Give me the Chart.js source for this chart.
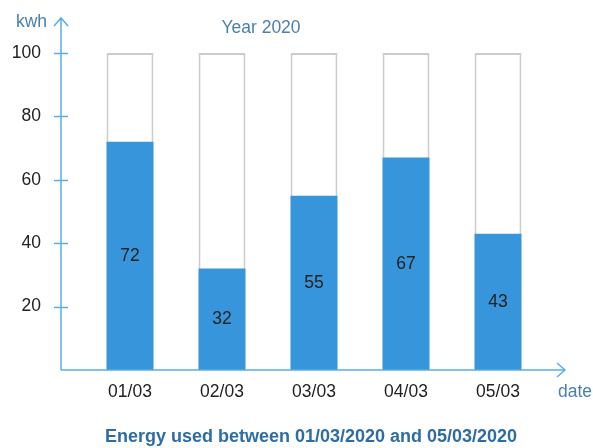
<!DOCTYPE html>
<html>
<head>
<meta charset="utf-8">
<script src="https://cdn.jsdelivr.net/npm/chart.js@4"></script>
<style>
  body { margin: 0; background: #fff; }
  #wrap { width: 593px; height: 448px; position: relative; }
</style>
</head>
<body>
<div id="wrap"><canvas id="energyChart"></canvas></div>
<script>
  const dates = ['01/03', '02/03', '03/03', '04/03', '05/03'];
  const usage = [72, 32, 55, 67, 43];
  const capacity = [100, 100, 100, 100, 100];
  const yTicks = [20, 40, 60, 80, 100];

  const FONT = 'Arial, "Liberation Sans", sans-serif';
  const AXIS = '#5aaee8';

  // axes, arrows, labels drawn by hand (the scales themselves are hidden)
  const axesPlugin = {
    id: 'axes',
    afterDraw(chart) {
      const ctx = chart.ctx;
      const x = chart.scales.x, y = chart.scales.y;
      const y0 = y.getPixelForValue(0);
      const ax = 61;
      ctx.save();
      ctx.strokeStyle = AXIS;
      ctx.lineWidth = 1.5;
      ctx.beginPath();
      ctx.moveTo(ax, y0); ctx.lineTo(ax, 18);
      ctx.moveTo(54, 26); ctx.lineTo(ax, 18); ctx.lineTo(68, 26);
      ctx.moveTo(ax, y0); ctx.lineTo(565, y0);
      ctx.moveTo(557, y0 - 7); ctx.lineTo(565, y0); ctx.lineTo(557, y0 + 7);
      yTicks.forEach(v => {
        const py = Math.round(y.getPixelForValue(v)) + 0.5;
        ctx.moveTo(54, py); ctx.lineTo(68, py);
      });
      ctx.stroke();

      ctx.fillStyle = '#222';
      ctx.font = '17.5px ' + FONT;
      ctx.textAlign = 'right';
      ctx.textBaseline = 'middle';
      yTicks.forEach(v => ctx.fillText(String(v), 41, y.getPixelForValue(v)));
      ctx.textAlign = 'center';
      dates.forEach((d, i) => ctx.fillText(d, x.getPixelForValue(i), 392));

      ctx.fillStyle = '#4a7fb0';
      ctx.textAlign = 'right';
      ctx.fillText('kwh', 47, 22);
      ctx.textAlign = 'left';
      ctx.fillText('date', 558, 392);
      ctx.textAlign = 'center';
      ctx.fillText('Year 2020', 261, 28);
      ctx.fillStyle = '#2e6da4';
      ctx.font = 'bold 18px ' + FONT;
      ctx.fillText('Energy used between 01/03/2020 and 05/03/2020', 311, 437);
      ctx.restore();
    }
  };

  // value labels in the middle of each blue bar
  const valuePlugin = {
    id: 'values',
    afterDatasetsDraw(chart) {
      const ctx = chart.ctx;
      const meta = chart.getDatasetMeta(0);
      ctx.save();
      ctx.fillStyle = '#222';
      ctx.font = '17.5px ' + FONT;
      ctx.textAlign = 'center';
      ctx.textBaseline = 'middle';
      meta.data.forEach((bar, i) => {
        ctx.fillText(String(usage[i]), bar.x, (bar.y + bar.base) / 2);
      });
      ctx.restore();
    }
  };

  new Chart(document.getElementById('energyChart'), {
    type: 'bar',
    data: {
      labels: dates,
      datasets: [{
        data: usage,
        backgroundColor: '#3796db',
        borderWidth: 0,
        barPercentage: 0.51,
        categoryPercentage: 1
      }, {
        data: capacity,
        backgroundColor: '#ffffff',
        borderColor: '#cccccc',
        borderWidth: 2,
        barPercentage: 0.51,
        categoryPercentage: 1
      }]
    },
    options: {
      responsive: true,
      maintainAspectRatio: false,
      animation: false,
      layout: { padding: { left: 84, right: 49, top: 53, bottom: 78 } },
      plugins: { legend: { display: false }, tooltip: { enabled: false } },
      scales: {
        x: { display: false, stacked: true },
        y: { display: false, stacked: false, min: 0, max: 100 }
      }
    },
    plugins: [axesPlugin, valuePlugin]
  });
</script>
</body>
</html>
